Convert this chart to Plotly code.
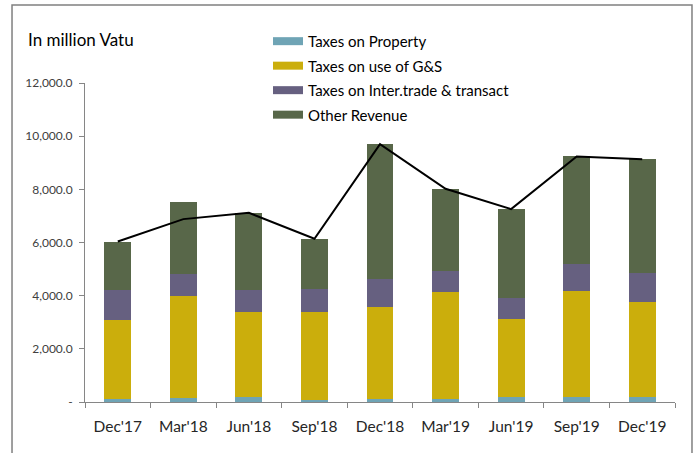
import plotly.graph_objects as go

categories = ["Dec'17", "Mar'18", "Jun'18", "Sep'18", "Dec'18", "Mar'19", "Jun'19", "Sep'19", "Dec'19"]
taxes_property = [125, 163, 188, 88, 125, 125, 188, 188, 188]
taxes_gs = [2970, 3810, 3183, 3283, 3446, 4023, 2920, 3997, 3584]
taxes_inter = [1100, 840, 827, 890, 1066, 764, 802, 990, 1065]
other_revenue = [1840, 2707, 2920, 1879, 5062, 3108, 3346, 4061, 4298]
total_line = [6040, 6880, 7118, 6140, 9699, 8020, 7256, 9236, 9135]
y_tickvals = [0, 2000, 4000, 6000, 8000, 10000, 12000]
y_ticktext = ["-", "2,000.0", "4,000.0", "6,000.0", "8,000.0", "10,000.0", "12,000.0"]

FONT = "Lato, sans-serif"

fig = go.Figure()
series = [
    ("Taxes on Property", taxes_property, "#6fa4b5"),
    ("Taxes on use of G&S", taxes_gs, "#cbae0c"),
    ("Taxes on Inter.trade & transact", taxes_inter, "#666080"),
    ("Other Revenue", other_revenue, "#586749"),
]
for i, (name, vals, col) in enumerate(series):
    fig.add_trace(go.Bar(x=categories, y=vals, name=name, marker_color=col,
                         marker_line_width=0, legendgroup=f"g{i}", showlegend=False))
fig.add_trace(go.Scatter(x=categories, y=total_line, mode="lines", name="Total",
                         line=dict(color="black", width=2), showlegend=False))
# legend entries drawn as wide swatches (like the original)
for i, (name, vals, col) in enumerate(series):
    fig.add_trace(go.Scatter(x=[None], y=[None], mode="lines", name=name,
                             line=dict(color=col, width=8), legendgroup=f"g{i}",
                             showlegend=True, hoverinfo="skip"))

fig.update_layout(
    width=699, height=453,
    margin=dict(l=85, r=24, t=83, b=51, autoexpand=False),
    barmode="stack", bargap=0.59,
    plot_bgcolor="white", paper_bgcolor="white",
    font=dict(family=FONT, color="#404040"),
    legend=dict(xref="container", yref="container", x=0.3834, y=0.945,
                xanchor="left", yanchor="top", traceorder="grouped",
                tracegroupgap=2,
                font=dict(size=15, color="#000000", family=FONT), bgcolor="rgba(0,0,0,0)",
                itemwidth=30),
    xaxis=dict(showline=True, linecolor="#868686", linewidth=1, ticks="outside",
               tickson="boundaries", ticklen=5, tickcolor="#868686", automargin=False,
               ticklabelstandoff=10,
               tickfont=dict(size=15.5, color="#262626")),
    yaxis=dict(range=[0, 12000], tickvals=y_tickvals, ticktext=y_ticktext,
               showline=True, linecolor="#868686", linewidth=1, ticks="outside",
               ticklen=5, tickcolor="#868686", showgrid=False, zeroline=False,
               automargin=False, ticklabelstandoff=4,
               tickfont=dict(size=12, color="#404040")),
    shapes=[dict(type="rect", xref="paper", yref="paper", x0=-0.1237, x1=1.0288,
                 y0=-0.2, y1=1.2445, line=dict(color="#808080", width=1.5))],
    annotations=[dict(text="In million Vatu", xref="paper", yref="paper",
                      x=-0.100, y=1.135, xanchor="left", yanchor="middle",
                      showarrow=False, font=dict(size=17, color="#000000", family=FONT))],
)
fig.write_html("out.html", config={"displayModeBar": False},
               post_script="document.body.style.margin='0px';")
